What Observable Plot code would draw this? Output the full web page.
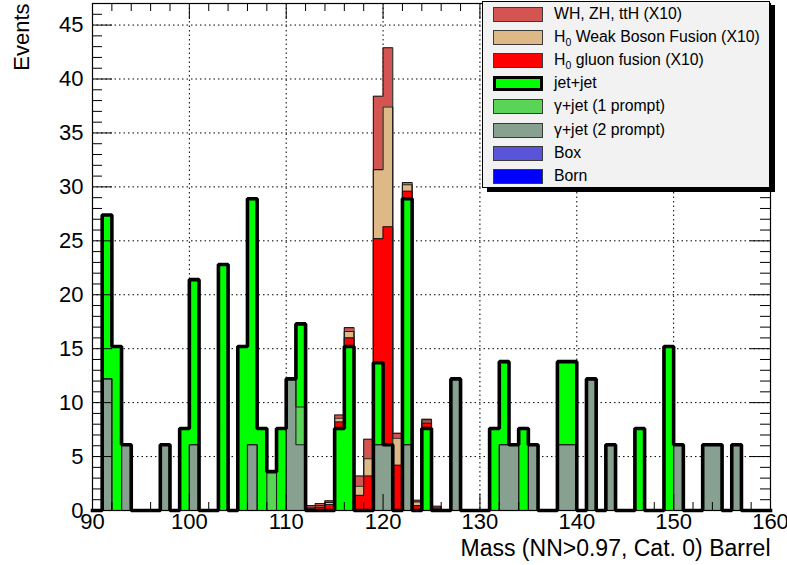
<!DOCTYPE html>
<html><head><meta charset="utf-8">
<script src="https://cdn.jsdelivr.net/npm/d3@7"></script>
<script src="https://cdn.jsdelivr.net/npm/@observablehq/plot@0.6"></script>
<style>
html,body{margin:0;padding:0;background:#fff;}
#wrap{position:relative;width:787px;height:565px;font-family:"Liberation Sans",Arial,Helvetica,sans-serif;}
#legend{position:absolute;left:482px;top:1px;width:288px;height:187px;box-sizing:border-box;background:#f2f2f2;border:1px solid #000;box-shadow:5px 4px 0 #000;}
.row{position:absolute;left:0;width:100%;height:18px;}
.sw{position:absolute;left:10px;top:1px;width:50px;height:15px;box-sizing:border-box;border:1px solid #3a3a3a;}
.lb{position:absolute;left:71px;top:-1px;font-size:15.8px;line-height:18px;color:#000;white-space:nowrap;}
.lb sub{font-size:10.5px;vertical-align:-4px;line-height:0;}
</style></head><body><div id="wrap"></div>
<script>
// Bin low edges (1 GeV bins) that have any content
const massBins = [91,92,93,97,99,100,103,105,106,107,108,109,110,111,112,113,114,115,116,117,118,119,120,121,122,123,124,125,127,131,132,133,134,135,138,139,141,143,146,149,150,153,154,156];
const bornVals   = [0,0,0,0,0,0,0,0,0,0,0,0,0,0, 0,0,0,0,0,0,0, 0,0,0,0,0,0,0, 0,0,0,0,0,0,0,0,0,0,0,0,0,0,0,0];
const boxVals    = [0,0,0,0,0,0,0,0,0,0,0,0,0,0, 0,0,0,0,0,0,0, 0,0,0,0,0,0,0, 0,0,0,0,0,0,0,0,0,0,0,0,0,0,0,0];
const gammaJet2  = [12.2,0,6.1,6.1,0,6.1,0,0,6.1,0,0,0,12.2,6.1, 0,0,0,0,0,0,0, 6.1,6.1,0,6.1,0,0,0, 12.2,0,6.1,6.1,0,6.1,6.1,6.1,12.2,6.1,0,0,6.1,6.1,6.1,6.1];
const gammaJet1  = [0,0,0,0,0,0,0,0,0,0,3.6,0,0,3.5, 0,0,0,0,0,0,0, 0,0,0,0,0,0,0, 0,0,0,0,0,0,0,0,0,0,0,0,0,0,0,0];
const jetJet     = [15.2,15.2,0,0,7.6,15.3,22.8,15.2,22.8,7.6,0,7.6,0,7.7, 0,0,0,7.6,15.2,0,0, 7.6,0,0,22.8,0,7.6,0, 0,7.6,7.7,0,7.6,0,7.7,7.7,0,0,7.6,15.2,0,0,0,0];
const ggFusion   = [0,0,0,0,0,0,0,0,0,0,0,0,0,0, 0.15,0.3,0.55,0.6,0.8,1.4,3.2, 11.5,20.2,4.2,0.7,0.45,0.5,0.15, 0,0,0,0,0,0,0,0,0,0,0,0,0,0,0,0];
const wbFusion   = [0,0,0,0,0,0,0,0,0,0,0,0,0,0, 0.1,0.15,0.2,0.35,0.6,0.85,1.6, 6.4,11.1,2.5,0.6,0.35,0.2,0.1, 0,0,0,0,0,0,0,0,0,0,0,0,0,0,0,0];
const vhTtH      = [0,0,0,0,0,0,0,0,0,0,0,0,0,0, 0.2,0.2,0.15,0.3,0.35,0.95,1.8, 6.8,5.5,0.45,0.2,0.15,0.15,0.15, 0,0,0,0,0,0,0,0,0,0,0,0,0,0,0,0];

const xTicks = [90,100,110,120,130,140,150,160];
const yTicks = [0,5,10,15,20,25,30,35,40,45];
const xTitle = "Mass (NN>0.97, Cat. 0) Barrel";
const yTitle = "Events";

// stack order: bottom -> top
const layers = [
  {key:"born", label:"Born", color:"#0000ff", values:bornVals},
  {key:"box",  label:"Box",  color:"#5954d8", values:boxVals},
  {key:"g2",   label:"γ+jet (2 prompt)", color:"#87a08f", values:gammaJet2},
  {key:"g1",   label:"γ+jet (1 prompt)", color:"#59d457", values:gammaJet1},
  {key:"jj",   label:"jet+jet", color:"#00ff00", values:jetJet, thick:true},
  {key:"ggf",  label:"H|0| gluon fusion (X10)", color:"#ff0000", values:ggFusion},
  {key:"wbf",  label:"H|0| Weak Boson Fusion (X10)", color:"#deb887", values:wbFusion},
  {key:"vh",   label:"WH, ZH, ttH (X10)", color:"#d35450", values:vhTtH}
];

const idx = new Map(massBins.map((b,i)=>[b,i]));
const steps = d3.range(90,161).map(e=>{
  const i = idx.get(Math.min(e,159));
  const row = {x:e}; let cum = 0;
  for (const L of layers){ cum += (i===undefined ? 0 : L.values[i]); row[L.key] = cum; }
  return row;
});

const W=787, H=565, mL=92, mR=17, mT=3, mB=55;
const iW = W-mL-mR, iH = H-mT-mB;
const yMinor = d3.range(0,48).filter(v=>v%5!==0);
const yMajor = yTicks;
const xMinor = d3.range(90,161,2).filter(v=>v%10!==0);
const xMajor = xTicks;
const grid = {stroke:"#000", strokeDasharray:"1.5,3", strokeWidth:1};

const top2bottom = layers.slice().reverse();
const plot = Plot.plot({
  width:W, height:H, marginLeft:mL, marginRight:mR, marginTop:mT, marginBottom:mB,
  x:{domain:[90,160]}, y:{domain:[0,47]},
  style:{fontFamily:"'Liberation Sans', Arial, Helvetica, sans-serif", fontSize:"22px", background:"#fff", color:"#000", overflow:"visible"},
  marks:[
    Plot.ruleY(yTicks.filter(v=>v>0), grid),
    Plot.ruleX(xTicks.filter(v=>v>90 && v<160), grid),
    ...top2bottom.map(L=>Plot.areaY(steps,{x:"x", y:L.key, curve:"step-after", fill:L.color})),
    ...top2bottom.filter(L=>!L.thick).map(L=>Plot.lineY(steps,{x:"x", y:L.key, curve:"step-after", stroke:"#1e1e1e", strokeWidth:1.1, strokeLinejoin:"miter"})),
    Plot.lineY(steps,{x:"x", y:"jj", curve:"step-after", stroke:"#000", strokeWidth:3.6, strokeLinejoin:"miter", strokeLinecap:"square"}),
    // inward ticks on all four sides
    Plot.tickY(yMinor,{y:d=>d, insetRight:iW-10, stroke:"#000"}),
    Plot.tickY(yMajor,{y:d=>d, insetRight:iW-20, stroke:"#000"}),
    Plot.tickY(yMinor,{y:d=>d, insetLeft:iW-10, stroke:"#000"}),
    Plot.tickY(yMajor,{y:d=>d, insetLeft:iW-20, stroke:"#000"}),
    Plot.tickX(xMinor,{x:d=>d, insetTop:iH-8, stroke:"#000"}),
    Plot.tickX(xMajor,{x:d=>d, insetTop:iH-16, stroke:"#000"}),
    Plot.tickX(xMinor,{x:d=>d, insetBottom:iH-8, stroke:"#000"}),
    Plot.tickX(xMajor,{x:d=>d, insetBottom:iH-16, stroke:"#000"}),
    Plot.frame({stroke:"#000", strokeWidth:1.2}),
    Plot.axisY(yTicks,{tickSize:0, tickPadding:9, fontSize:22, label:null}),
    Plot.axisX(xTicks,{tickSize:0, tickPadding:3, fontSize:22, label:null}),
    Plot.text([yTitle],{text:d=>d, frameAnchor:"top-left", rotate:-90, textAnchor:"end", dx:-79, dy:0, fontSize:22}),
    Plot.text([xTitle],{text:d=>d, frameAnchor:"bottom-right", textAnchor:"end", dy:45, fontSize:23})
  ]
});
const wrap = document.getElementById("wrap");
wrap.appendChild(plot);

// legend (top of stack first)
const legend = document.createElement("div");
legend.id = "legend";
const rowTop = 13.5, rowStep = 23.2;
top2bottom.forEach((L,k)=>{
  const row = document.createElement("div");
  row.className = "row";
  row.style.top = (rowTop + k*rowStep - 9 - 1) + "px";
  const sw = document.createElement("div");
  sw.className = "sw";
  sw.style.background = L.color;
  if (L.thick){ sw.style.border = "3px solid #000"; }
  const lb = document.createElement("div");
  lb.className = "lb";
  const parts = L.label.split("|");
  parts.forEach((p,j)=>{
    if (j===1){ const s=document.createElement("sub"); s.textContent=p; lb.appendChild(s); }
    else lb.appendChild(document.createTextNode(p));
  });
  row.appendChild(sw); row.appendChild(lb);
  legend.appendChild(row);
});
wrap.appendChild(legend);
</script></body></html>
